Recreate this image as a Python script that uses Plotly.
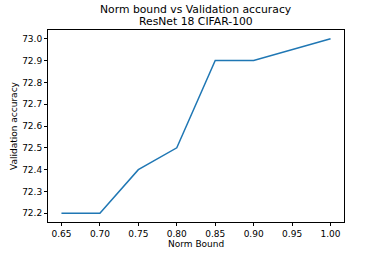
import plotly.graph_objects as go

norm_bound = [0.65, 0.70, 0.75, 0.80, 0.85, 0.90, 1.00]
val_acc = [72.2, 72.2, 72.4, 72.5, 72.9, 72.9, 73.0]
x_ticks = [0.65, 0.70, 0.75, 0.80, 0.85, 0.90, 0.95, 1.00]
y_ticks = [72.2, 72.3, 72.4, 72.5, 72.6, 72.7, 72.8, 72.9, 73.0]
title_lines = ["Norm bound vs Validation accuracy", "ResNet 18 CIFAR-100"]
x_title = "Norm Bound"
y_title = "Validation accuracy"

W, H = 382, 254
L, R, T, B = 48, 38, 30, 32
plot_w, plot_h = W - L - R, H - T - B

fig = go.Figure(go.Scatter(x=norm_bound, y=val_acc, mode="lines",
                           line=dict(color="#1f77b4", width=1.5)))

axis_common = dict(showgrid=False, zeroline=False, showline=True, linecolor="black",
                   linewidth=1, mirror=True, ticks="outside", ticklen=3, tickwidth=1,
                   tickcolor="black", tickfont=dict(family="DejaVu Sans", size=9, color="black"))

for txt, ypx in zip(title_lines, [10, 22]):
    fig.add_annotation(text=txt, xref="paper", yref="paper", x=0.5, xanchor="center",
                       y=(H - B - ypx) / plot_h, yanchor="middle", showarrow=False,
                       font=dict(family="DejaVu Sans", size=10.8, color="black"))

fig.add_annotation(text=x_title, xref="paper", yref="paper", x=0.5, xanchor="center",
                   y=(H - B - 244) / plot_h, yanchor="middle", showarrow=False,
                   font=dict(family="DejaVu Sans", size=9, color="black"))
fig.add_annotation(text=y_title, xref="paper", yref="paper", x=(14 - L) / plot_w,
                   xanchor="center", y=0.5, yanchor="middle", textangle=-90, showarrow=False,
                   font=dict(family="DejaVu Sans", size=9, color="black"))

fig.update_layout(
    width=W, height=H,
    margin=dict(l=L, r=R, t=T, b=B),
    paper_bgcolor="white", plot_bgcolor="white",
    showlegend=False,
    font=dict(family="DejaVu Sans", color="black"),
    xaxis=dict(range=[0.6325, 1.0175], tickvals=x_ticks,
               ticktext=[f"{v:.2f}" for v in x_ticks], **axis_common),
    yaxis=dict(range=[72.16, 73.04], tickvals=y_ticks,
               ticktext=[f"{v:.1f}" for v in y_ticks], **axis_common),
)

fig.write_html("out.html", config={"displayModeBar": False},
               post_script="document.body.style.margin='0';document.body.style.overflow='hidden';")
